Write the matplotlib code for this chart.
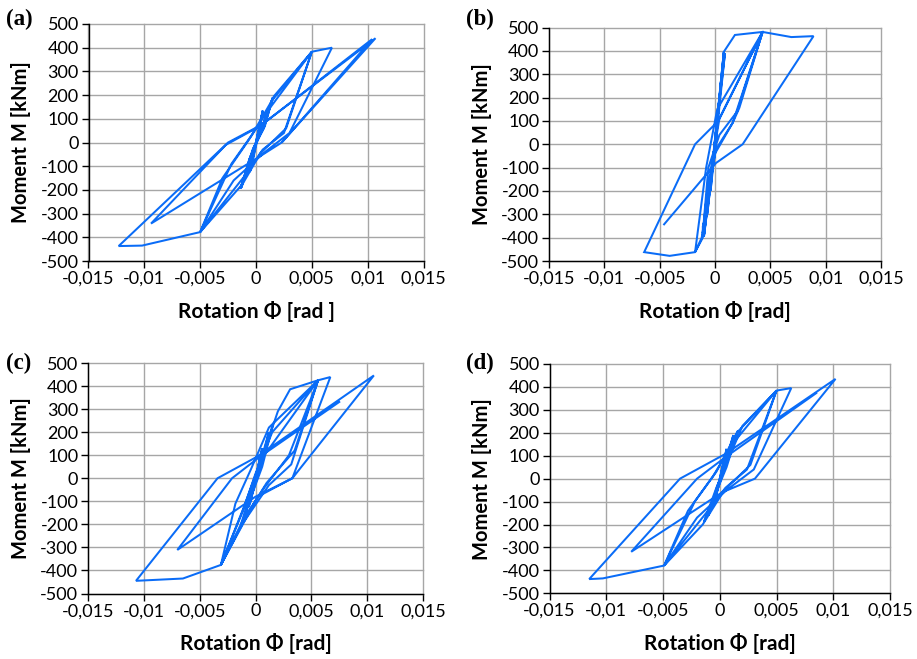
import matplotlib
matplotlib.use("Agg")
import matplotlib.pyplot as plt

# ---------------- data (rotation [rad], moment [kNm]) ----------------
rot_a = [0, 0.0006, 0.0001, -0.0005, 0.0000, 0.0006, 0.0001, -0.0006, -0.0001,
         0.0015, 0.0008, -0.0002, -0.0013, -0.0006, 0.0003, 0.0015, 0.0007, -0.0003, -0.0014, -0.0005,
         0.0016, 0.0050, 0.0027, 0.0004, -0.0012, -0.0050,
         -0.0022, -0.0004, 0.0014, 0.0050, 0.0025, 0.0006, -0.0010, -0.0050,
         -0.0030, -0.0008, 0.0010, 0.0050, 0.0068,
         0.0030, 0.0008, -0.0020, -0.0050, -0.0102, -0.0123,
         -0.0025, 0.0005, 0.0107, 0.0023, 0.0003, -0.0094,
         -0.0027, 0.0004, 0.0104, 0.0024]
mom_a = [0, 130, 20, -120, -15, 135, 25, -125, -20,
         190, 70, -20, -190, -70, 25, 188, 60, -30, -195, -60,
         195, 383, 60, -45, -175, -378,
         -90, 30, 175, 383, 40, -30, -140, -378,
         -150, 0, 130, 383, 400,
         40, -40, -160, -378, -435, -437,
         0, 75, 440, 0, -60, -342,
         -10, 70, 436, 5]

rot_b = [0, 0.0002, 0.0000, -0.0002, 0.0000,
         0.0004, 0.0000, -0.0004, 0.0000,
         0.0006, 0.0001, -0.0007, -0.0001,
         0.0008, -0.0001, -0.0010, 0.0000, 0.0009, 0.0000, -0.0010,
         0.0001, 0.0008, 0.0018, 0.0043,
         0.0022, 0.0016, 0.0001, -0.0003, -0.0008, -0.0011, -0.0011, -0.0018,
         -0.0008, 0.0002, 0.0043,
         0.0020, 0.0004, -0.0006, -0.0011, -0.0007, 0.0004, 0.0043,
         0.0016, 0.0000, -0.0012, -0.0018, -0.0041, -0.0064,
         -0.0018, 0.0003, 0.0043, 0.0069, 0.0089,
         0.0025, 0.0001, -0.0046]
mom_b = [0, 110, 10, -100, -10,
         200, 20, -200, -20,
         300, 40, -300, -40,
         396, -30, -390, 20, 390, -20, -395,
         40, 396, 468, 481,
         156, 92, -20, -120, -300, -352, -400, -462,
         -100, 150, 481,
         140, 40, -100, -380, -200, 110, 481,
         92, -40, -400, -462, -478, -462,
         0, 100, 481, 459, 463,
         0, -80, -343]

rot_c = [0, 0.0005, 0.0001, -0.0005, 0.0000, 0.0006, 0.0001, -0.0006, -0.0001,
         0.0012, 0.0004, -0.0010, -0.0002, 0.0016, 0.0006, -0.0013, -0.0003,
         0.0020, 0.0031, 0.0056, 0.0030, 0.0008, -0.0010, -0.0031,
         -0.0012, 0.0000, 0.0015, 0.0056, 0.0035, 0.0010, -0.0008, -0.0031,
         -0.0018, -0.0004, 0.0012, 0.0056, 0.0032, 0.0012, -0.0012, -0.0031,
         -0.0010, 0.0005, 0.0056, 0.0067, 0.0033, 0.0002, -0.0031, -0.0065, -0.0107,
         -0.0034, 0.0002, 0.0106, 0.0033, 0.0000, -0.0070, -0.0021, 0.0003, 0.0075]
mom_c = [0, 110, 15, -110, -15, 130, 20, -125, -20,
         200, 40, -170, -30, 240, 50, -200, -40,
         290, 386, 425, 100, -40, -170, -376,
         -150, 20, 200, 425, 120, -20, -160, -376,
         -110, 40, 220, 425, 60, -30, -200, -376,
         -120, 80, 425, 439, 0, -80, -376, -435, -445,
         0, 95, 446, 0, -80, -311, 0, 90, 331]

rot_d = [0, 0.0005, 0.0001, -0.0005, 0.0000, 0.0006, 0.0001, -0.0006, -0.0001,
         0.0012, 0.0004, -0.0010, -0.0002, 0.0016, 0.0006, -0.0014, -0.0003,
         0.0020, 0.0050, 0.0027, 0.0004, -0.0015, -0.0049,
         -0.0022, -0.0003, 0.0015, 0.0050, 0.0024, 0.0005, -0.0012, -0.0049,
         -0.0028, -0.0006, 0.0011, 0.0050, 0.0063,
         0.0030, 0.0006, -0.0020, -0.0049, -0.0103, -0.0115,
         -0.0035, 0.0005, 0.0102, 0.0031, 0.0002, -0.0078, -0.0020, 0.0004, 0.0085]
mom_d = [0, 110, 15, -110, -15, 130, 20, -125, -20,
         190, 40, -160, -30, 210, 50, -190, -40,
         230, 384, 60, -50, -200, -379,
         -100, 30, 200, 384, 40, -40, -150, -379,
         -140, 10, 150, 384, 395,
         40, -50, -170, -379, -435, -438,
         0, 108, 435, 0, -60, -319, 0, 90, 373]

x_ticks = [-0.015, -0.01, -0.005, 0, 0.005, 0.01, 0.015]
x_ticklabels = ["-0,015", "-0,01", "-0,005", "0", "0,005", "0,01", "0,015"]
y_ticks = [500, 400, 300, 200, 100, 0, -100, -200, -300, -400, -500]
y_ticklabels = ["500", "400", "300", "200", "100", "0", "-100", "-200", "-300", "-400", "-500"]

panel_letters = ["(a)", "(b)", "(c)", "(d)"]
x_labels = ["Rotation Φ [rad ]", "Rotation Φ [rad]", "Rotation Φ [rad]", "Rotation Φ [rad]"]
y_label = "Moment M [kNm]"

# ---------------- layout ----------------
W, H = 917, 659
fig = plt.figure(figsize=(W / 100, H / 100), dpi=100)

# pixel boxes: (left, top, right, bottom)
boxes = [(88.5, 24, 423.5, 261), (549, 27.5, 881, 261),
         (88, 363, 423, 593.5), (549.5, 364, 890, 593.3)]
letter_pos = [(6, 9), (466, 9), (6, 353), (466, 353)]
series = [(rot_a, mom_a), (rot_b, mom_b), (rot_c, mom_c), (rot_d, mom_d)]

LINE = "#0a6cf7"
GRID = "#a6a6a6"
FONT = "Lato"

for i, ((l, t, r, b), (rx, my)) in enumerate(zip(boxes, series)):
    ax = fig.add_axes([l / W, 1 - b / H, (r - l) / W, (b - t) / H])
    ax.plot(rx, my, color=LINE, lw=1.45, solid_joinstyle="miter", zorder=3)
    ax.set_xlim(-0.015, 0.015)
    ax.set_ylim(-500, 500)
    ax.set_xticks(x_ticks)
    ax.set_xticklabels(x_ticklabels, fontfamily=FONT, fontsize=13)
    ax.set_yticks(y_ticks)
    ax.set_yticklabels(y_ticklabels, fontfamily=FONT, fontsize=13)
    ax.grid(True, color=GRID, lw=1.0)
    for gl in ax.get_xgridlines() + ax.get_ygridlines():
        gl.set_clip_on(False)
    ax.set_axisbelow(True)
    for s in ("top", "right"):
        ax.spines[s].set_visible(False)
    for s in ("left", "bottom"):
        ax.spines[s].set_color("black")
        ax.spines[s].set_linewidth(1.0)
        ax.spines[s].set_zorder(4)
    ax.tick_params(axis="both", direction="out", length=5, width=1.0,
                   color="black", pad=2)
    ax.set_xlabel(x_labels[i], fontfamily=FONT, fontweight="bold", fontsize=15)
    ax.set_ylabel(y_label, fontfamily=FONT, fontweight="bold", fontsize=14.5)
    ax.xaxis.set_label_coords(0.5, -40 / (b - t))
    ax.yaxis.set_label_coords(-57 / (r - l), 0.5)
    fig.text(letter_pos[i][0] / W, 1 - letter_pos[i][1] / H, panel_letters[i],
             fontfamily="Liberation Serif", fontweight="bold", fontsize=16.5,
             ha="left", va="top")

fig.savefig("out.png", dpi=100)
